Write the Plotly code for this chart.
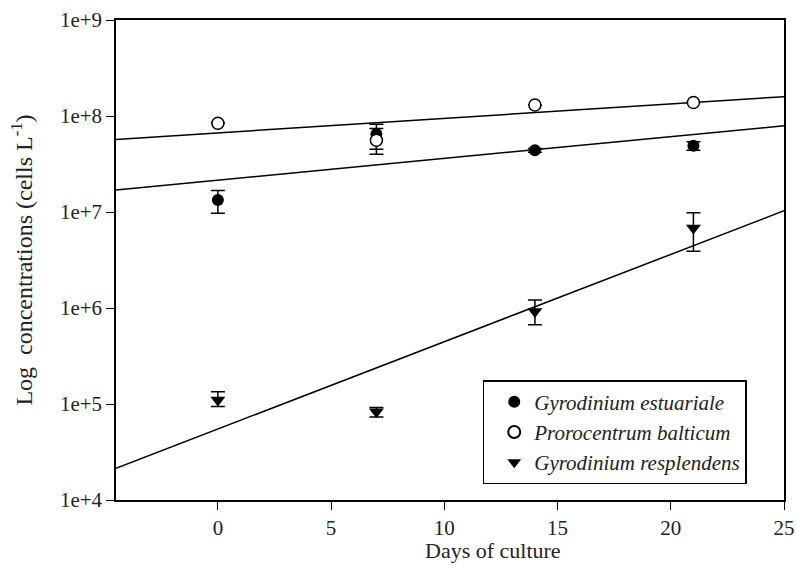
import plotly.graph_objects as go

# ---- data ----
days = [0, 7, 14, 21]

est_mean = [1.33e7, 6.5e7, 4.4e7, 4.9e7]
est_hi = [1.67e7, 8.2e7, 4.6e7, 5.4e7]
est_lo = [0.97e7, 4.5e7, 4.2e7, 4.4e7]

bal_mean = [8.4e7, 5.6e7, 1.30e8, 1.38e8]
bal_hi = [8.4e7, 7.4e7, 1.30e8, 1.38e8]
bal_lo = [8.4e7, 4.0e7, 1.30e8, 1.38e8]

res_mean = [1.1e5, 8.3e4, 9.2e5, 6.8e6]
res_hi = [1.34e5, 9.2e4, 1.21e6, 9.8e6]
res_lo = [0.94e5, 7.3e4, 6.7e5, 3.9e6]

# regression lines (end points)
fit_x = [-4.5, 25]
est_fit = [1.70e7, 7.9e7]
bal_fit = [5.7e7, 1.59e8]
res_fit = [2.14e4, 1.03e7]

names = ["Gyrodinium estuariale", "Prorocentrum balticum", "Gyrodinium resplendens"]
y_tickvals = [1e4, 1e5, 1e6, 1e7, 1e8, 1e9]
y_ticktext = ["1e+4", "1e+5", "1e+6", "1e+7", "1e+8", "1e+9"]
x_tickvals = [0, 5, 10, 15, 20, 25]
x_title = "Days of culture"
y_title = "Log  concentrations (cells L<sup>-1</sup>)"

FONT = "Liberation Serif"

fig = go.Figure()

for fit in (bal_fit, est_fit, res_fit):
    fig.add_trace(go.Scatter(x=fit_x, y=fit, mode="lines",
                             line=dict(color="black", width=1.5),
                             showlegend=False, hoverinfo="skip"))


def err(mean, hi, lo):
    return dict(type="data", symmetric=False,
                array=[h - m for h, m in zip(hi, mean)],
                arrayminus=[m - l for m, l in zip(mean, lo)],
                color="black", thickness=1.5, width=7)


fig.add_trace(go.Scatter(x=days, y=est_mean, mode="markers", name=names[0],
                         marker=dict(symbol="circle", size=12, color="black"),
                         error_y=err(est_mean, est_hi, est_lo)))
fig.add_trace(go.Scatter(x=days, y=bal_mean, mode="markers", name=names[1],
                         marker=dict(symbol="circle", size=12, color="white",
                                     line=dict(color="black", width=1.5)),
                         error_y=err(bal_mean, bal_hi, bal_lo)))
fig.add_trace(go.Scatter(x=days, y=res_mean, mode="markers", name=names[2],
                         marker=dict(symbol="triangle-down", size=13, color="black"),
                         error_y=err(res_mean, res_hi, res_lo)))

fig.update_layout(
    width=796, height=569,
    margin=dict(l=116, r=12, t=20, b=69),
    paper_bgcolor="white", plot_bgcolor="white",
    font=dict(family=FONT, size=20, color="#222"),
    showlegend=True,
    legend=dict(x=0.549, y=0.25, xanchor="left", yanchor="top",
                bgcolor="white", bordercolor="black", borderwidth=1.5,
                font=dict(family=FONT, size=21, style="italic", color="#222"),
                indentation=10,
                itemsizing="constant", tracegroupgap=0),
    annotations=[dict(text=x_title, xref="paper", yref="paper",
                      x=0.564, y=-0.106, xanchor="center", yanchor="middle",
                      showarrow=False, font=dict(family=FONT, size=22, color="#222"))],
)

fig.update_xaxes(range=[-4.5, 25], tickvals=x_tickvals, automargin=False,
                 showline=True, mirror=True, linecolor="black", linewidth=1.5,
                 ticks="outside", ticklen=8, tickcolor="black",
                 showgrid=False, zeroline=False,
                 tickfont=dict(family=FONT, size=21))
fig.update_yaxes(type="log", range=[4, 9], tickvals=y_tickvals, ticktext=y_ticktext,
                 automargin=False,
                 showline=True, mirror=True, linecolor="black", linewidth=1.5,
                 ticks="outside", ticklen=8, tickcolor="black",
                 showgrid=False, zeroline=False,
                 tickfont=dict(family=FONT, size=21),
                 title=dict(text=y_title, standoff=20,
                            font=dict(family=FONT, size=24)))

fig.write_html("out.html")
